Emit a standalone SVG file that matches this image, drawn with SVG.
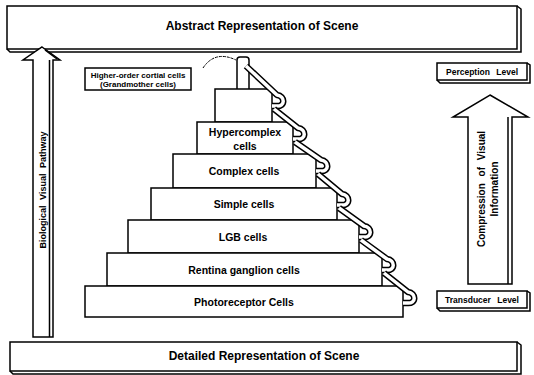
<svg xmlns="http://www.w3.org/2000/svg" width="534" height="375" viewBox="0 0 534 375">
<style>
.ln{fill:#fff;stroke:#000;stroke-width:1.5}
.sh{fill:none;stroke:#000;stroke-width:1.5}
.t{font-family:"Liberation Sans",Arial,sans-serif;fill:#000;text-anchor:middle}
.bar{font-size:12px;font-weight:bold}
.blk{font-size:10.5px;font-weight:bold}
.sm{font-size:8.5px;font-weight:bold;word-spacing:4px}
.rail1{fill:none;stroke:#000;stroke-width:6.5;stroke-linejoin:round;stroke-linecap:butt}
.rail2{fill:none;stroke:#fff;stroke-width:3.5;stroke-linejoin:round;stroke-linecap:butt}
</style>
<rect width="534" height="375" fill="#fff"/>
<g id="top-bar">
<path class="sh" d="M517,6 L521,9 L521,52 L10,52 L7,49"/>
<rect class="ln" x="7" y="6" width="510" height="43"/>
<text class="t bar" x="262" y="30">Abstract Representation of Scene</text>
</g>
<g id="bottom-bar">
<path class="sh" d="M517,342 L521,345 L521,374 L13,374 L10,371"/>
<rect class="ln" x="10" y="342" width="507" height="29"/>
<text class="t bar" x="264" y="360">Detailed Representation of Scene</text>
</g>
<g id="left-arrow">
<path class="ln" d="M42,47 L60,60 L53,60 L53,337 L33,337 L33,60 L23,60 Z"/>
<path class="sh" d="M49.5,60 L49.5,337 M45,50 L57,59" stroke-width="1"/>
<text class="t" font-size="9" font-weight="bold" word-spacing="3" transform="translate(46,190) rotate(-90)">Biological Visual Pathway</text>
</g>
<g id="higher-order">
<rect class="ln" x="85" y="68" width="106" height="22"/>
<text class="t" font-size="8" font-weight="bold" x="138" y="77.5">Higher-order cortial cells</text>
<text class="t" font-size="8" font-weight="bold" x="138" y="87">(Grandmother cells)</text>
</g>
<g id="pyramid">
<path d="M203,68 Q215,50 236,60" fill="none" stroke="#000" stroke-width="1" stroke-dasharray="3,1"/>
<path class="ln" d="M237,89 L237,60 Q237,57 240,57 L246,57 Q249,57 249,60 L249,89"/>
<rect class="ln" x="215" y="89" width="57" height="33"/>
<g id="hypercomplex"><rect class="ln" x="197" y="122" width="96" height="32"/>
<text class="t blk" x="245" y="136">Hypercomplex</text><text class="t blk" x="245" y="149.5">cells</text></g>
<g id="complex"><rect class="ln" x="173" y="154" width="143" height="34"/>
<text class="t blk" x="244" y="175">Complex cells</text></g>
<g id="simple"><rect class="ln" x="151" y="188" width="186" height="32"/>
<text class="t blk" x="244" y="208">Simple cells</text></g>
<g id="lgb"><rect class="ln" x="128" y="220" width="231" height="33"/>
<text class="t blk" x="243" y="240.5">LGB cells</text></g>
<g id="retina"><rect class="ln" x="107" y="253" width="275" height="33"/>
<text class="t blk" x="244" y="273.5">Rentina ganglion cells</text></g>
<g id="photo"><rect class="ln" x="85" y="286" width="318" height="31"/>
<text class="t blk" x="244" y="305.5">Photoreceptor Cells</text></g>
</g>
<g id="handrail">
<path class="rail1" d="M246,66 L277,95 C285,96 286,107 276,106 L272,106"/><path class="rail2" d="M246,66 L277,95 C285,96 286,107 276,106 L272,106"/>
<path class="rail1" d="M274,109 L298,128 C306,129 307,140 297,139 L293,139"/><path class="rail2" d="M274,109 L298,128 C306,129 307,140 297,139 L293,139"/>
<path class="rail1" d="M295,142 L321,160 C329,161 330,172 320,171 L316,171"/><path class="rail2" d="M295,142 L321,160 C329,161 330,172 320,171 L316,171"/>
<path class="rail1" d="M318,174 L342,194 C350,195 351,206 341,205 L337,205"/><path class="rail2" d="M318,174 L342,194 C350,195 351,206 341,205 L337,205"/>
<path class="rail1" d="M339,208 L364,226 C372,227 373,238 363,237 L359,237"/><path class="rail2" d="M339,208 L364,226 C372,227 373,238 363,237 L359,237"/>
<path class="rail1" d="M361,240 L387,259 C395,260 396,271 386,270 L382,270"/><path class="rail2" d="M361,240 L387,259 C395,260 396,271 386,270 L382,270"/>
<path class="rail1" d="M384,273 L408,292 C416,293 417,304 407,303 L403,303"/><path class="rail2" d="M384,273 L408,292 C416,293 417,304 407,303 L403,303"/>
</g>
<g id="perception">
<path class="sh" d="M527,63 L530,65 L530,83 L440,83 L437,80"/>
<rect class="ln" x="437" y="63" width="90" height="17"/>
<text class="t sm" x="482" y="74.5">Perception Level</text>
</g>
<g id="compression-arrow">
<path class="ln" d="M490,95 L528,117 L512,117 L512,284 L468,284 L468,117 L453,117 Z"/>
<path class="sh" d="M508,117 L508,284" stroke-width="1"/>
<text class="t" font-size="10" font-weight="bold" word-spacing="4" transform="translate(485,189) rotate(-90)">Compression of Visual</text>
<text class="t" font-size="10" font-weight="bold" transform="translate(498,189) rotate(-90)">Information</text>
</g>
<g id="transducer">
<path class="sh" d="M527,291 L530,293 L530,311 L440,311 L437,308"/>
<rect class="ln" x="437" y="291" width="90" height="17"/>
<text class="t sm" x="482" y="302.5">Transducer Level</text>
</g>
</svg>
